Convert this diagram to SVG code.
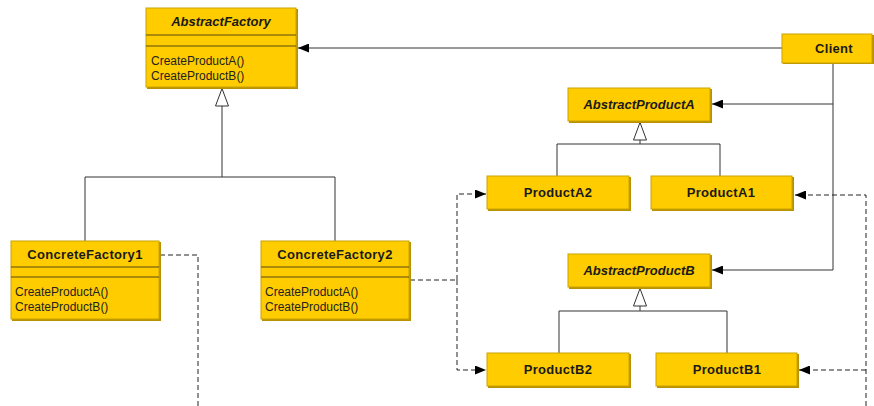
<svg xmlns="http://www.w3.org/2000/svg" width="874" height="406" viewBox="0 0 874 406">
  <style>
    .box { fill: #FFCC00; stroke: #C9A200; stroke-width: 1; }
    .shadow { fill: #B89200; }
    .sep { stroke: #5a4a10; stroke-width: 1; }
    .title { font-family: "Liberation Sans", Arial, sans-serif; font-size: 13px; font-weight: bold; fill: #1a1a1a; text-anchor: middle; letter-spacing: 0.3px; }
    .abstract { font-style: italic; letter-spacing: 0; }
    .op { font-family: "Liberation Sans", Arial, sans-serif; font-size: 12px; fill: #222; }
    .line { fill: none; stroke: #333; stroke-width: 1; }
    .dash { fill: none; stroke: #222; stroke-width: 1; stroke-dasharray: 5 3; }
  </style>
  <defs>
    <marker id="arrow" viewBox="0 0 11 9" refX="11" refY="4.5" markerWidth="11" markerHeight="9" markerUnits="userSpaceOnUse" orient="auto">
      <path d="M0,0 L11,4.5 L0,9 Z" fill="#000"/>
    </marker>
  </defs>
  <rect width="874" height="406" fill="#fff"/>

  <g id="connectors">
    <!-- Client associations -->
    <line class="line" x1="782" y1="48" x2="298" y2="48" marker-end="url(#arrow)"/>
    <polyline class="line" points="833,63 833,104 712,104" marker-end="url(#arrow)"/>
    <polyline class="line" points="833,104 833,270 712,270" marker-end="url(#arrow)"/>
    <!-- generalisation: factories -->
    <polyline class="line" points="85,241 85,177 335,177 335,241"/>
    <line class="line" x1="222" y1="177" x2="222" y2="106"/>
    <polygon points="222,88.5 228.5,106 215.5,106" fill="#fff" stroke="#333"/>
    <!-- generalisation: product A -->
    <polyline class="line" points="557,176 557,144 720,144 720,176"/>
    <line class="line" x1="640" y1="144" x2="640" y2="140"/>
    <polygon points="640,122.5 646.5,140 633.5,140" fill="#fff" stroke="#333"/>
    <!-- generalisation: product B -->
    <polyline class="line" points="559,353 559,311 727,311 727,353"/>
    <line class="line" x1="640" y1="311" x2="640" y2="306"/>
    <polygon points="640,288.5 646.5,306 633.5,306" fill="#fff" stroke="#333"/>
    <!-- creation dependencies -->
    <polyline class="dash" points="160,255 198,255 198,406"/>
    <line class="dash" x1="410" y1="280" x2="457" y2="280"/>
    <polyline class="dash" points="457,280 457,194 486,194" marker-end="url(#arrow)"/>
    <polyline class="dash" points="457,280 457,370 486,370" marker-end="url(#arrow)"/>
    <polyline class="dash" points="866,406 866,195 795,195" marker-end="url(#arrow)"/>
    <line class="dash" x1="866" y1="370" x2="799" y2="370" marker-end="url(#arrow)"/>
  </g>

  <g id="AbstractFactory">
    <rect class="shadow" x="147" y="9" width="151" height="80"/>
    <rect class="box" x="146" y="8" width="150" height="79"/>
    <line class="sep" x1="146" y1="35" x2="296" y2="35"/>
    <line class="sep" x1="146" y1="46" x2="296" y2="46"/>
    <text class="title abstract" x="221" y="26">AbstractFactory</text>
    <text class="op" x="151" y="65">CreateProductA()</text>
    <text class="op" x="151" y="80">CreateProductB()</text>
  </g>

  <g id="Client">
    <rect class="shadow" x="783" y="35" width="91" height="29"/>
    <rect class="box" x="782" y="34" width="90" height="29"/>
    <text class="title" x="834" y="53">Client</text>
  </g>

  <g id="ConcreteFactory1">
    <rect class="shadow" x="12" y="242" width="149" height="79"/>
    <rect class="box" x="11" y="241" width="148" height="78"/>
    <line class="sep" x1="11" y1="267" x2="159" y2="267"/>
    <line class="sep" x1="11" y1="277" x2="159" y2="277"/>
    <text class="title" x="85" y="259">ConcreteFactory1</text>
    <text class="op" x="15" y="296">CreateProductA()</text>
    <text class="op" x="15" y="311">CreateProductB()</text>
  </g>

  <g id="ConcreteFactory2">
    <rect class="shadow" x="262" y="242" width="149" height="79"/>
    <rect class="box" x="261" y="241" width="148" height="78"/>
    <line class="sep" x1="261" y1="267" x2="409" y2="267"/>
    <line class="sep" x1="261" y1="277" x2="409" y2="277"/>
    <text class="title" x="335" y="259">ConcreteFactory2</text>
    <text class="op" x="265" y="296">CreateProductA()</text>
    <text class="op" x="265" y="311">CreateProductB()</text>
  </g>

  <g id="AbstractProductA">
    <rect class="shadow" x="569" y="89" width="143" height="34"/>
    <rect class="box" x="568" y="88" width="142" height="33"/>
    <text class="title abstract" x="639" y="109">AbstractProductA</text>
  </g>

  <g id="ProductA2">
    <rect class="shadow" x="488" y="177" width="143" height="34"/>
    <rect class="box" x="487" y="176" width="142" height="33"/>
    <text class="title" x="558" y="197">ProductA2</text>
  </g>

  <g id="ProductA1">
    <rect class="shadow" x="652" y="177" width="142" height="34"/>
    <rect class="box" x="651" y="176" width="141" height="33"/>
    <text class="title" x="721" y="197">ProductA1</text>
  </g>

  <g id="AbstractProductB">
    <rect class="shadow" x="569" y="255" width="143" height="34"/>
    <rect class="box" x="568" y="254" width="142" height="33"/>
    <text class="title abstract" x="639" y="275">AbstractProductB</text>
  </g>

  <g id="ProductB2">
    <rect class="shadow" x="488" y="354" width="143" height="34"/>
    <rect class="box" x="487" y="353" width="142" height="33"/>
    <text class="title" x="558" y="374">ProductB2</text>
  </g>

  <g id="ProductB1">
    <rect class="shadow" x="657" y="354" width="142" height="34"/>
    <rect class="box" x="656" y="353" width="141" height="33"/>
    <text class="title" x="727" y="374">ProductB1</text>
  </g>
</svg>
